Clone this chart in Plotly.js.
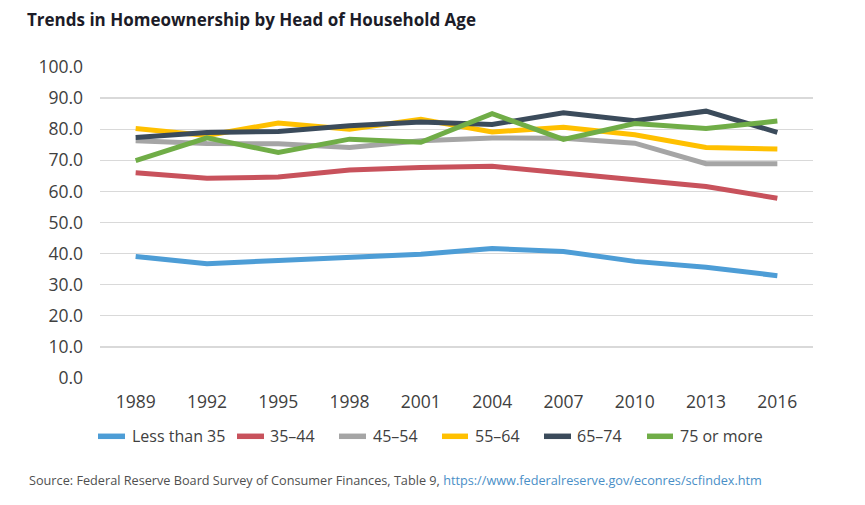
<!DOCTYPE html>
<html>
<head>
<meta charset="utf-8">
<script src="https://cdn.plot.ly/plotly-3.0.1.min.js"></script>
<style>html,body{margin:0;padding:0;background:#fff;}#chart{width:865px;height:505px;}</style>
</head>
<body>
<div id="chart"></div>
<script>
const years = ["1989","1992","1995","1998","2001","2004","2007","2010","2013","2016"];
const seriesNames = ["Less than 35","35\u201344","45\u201354","55\u201364","65\u201374","75 or more"];
const lessThan35 = [39.1, 36.7, 37.8, 38.8, 39.8, 41.6, 40.7, 37.5, 35.6, 32.9];
const age35to44 = [66.0, 64.2, 64.6, 66.9, 67.7, 68.1, 65.9, 63.8, 61.6, 57.8];
const age45to54 = [76.3, 75.4, 75.3, 74.1, 76.3, 77.2, 77.1, 75.5, 68.9, 68.9];
const age55to64 = [80.2, 78.0, 82.0, 80.0, 83.2, 79.1, 80.6, 78.2, 74.1, 73.6];
const age65to74 = [77.3, 78.9, 79.3, 81.1, 82.3, 81.5, 85.3, 82.7, 85.8, 79.0];
const age75plus = [69.9, 77.2, 72.5, 76.8, 75.8, 85.0, 76.7, 81.8, 80.2, 82.6];
const colors = ["#4d9dd6", "#c8525c", "#a5a5a5", "#ffc000", "#3b4b5b", "#70ad47"];
const allSeries = [lessThan35, age35to44, age45to54, age55to64, age65to74, age75plus];

const traces = allSeries.map((vals, i) => ({
  type: "scatter",
  mode: "lines",
  x: years,
  y: vals,
  name: seriesNames[i],
  line: {color: colors[i], width: 5},
  hoverinfo: "skip",
  showlegend: false
}));

// Manual legend layout (pixel positions in the 865x505 frame)
const plotL = 100, plotW = 713, plotB = 377.7, plotH = 311;
const px = v => (v - plotL) / plotW;
const py = v => (plotB - v) / plotH;
const legendY = 436;
const legendLines = [[98,125],[237,264],[339,366],[442,468],[544,571],[647,673]];
const legendText = [130, 268, 371, 473, 575, 678];

const shapes = legendLines.map((seg, i) => ({
  type: "line", xref: "paper", yref: "paper",
  x0: px(seg[0]), x1: px(seg[1]), y0: py(legendY), y1: py(legendY),
  line: {color: colors[i], width: 5.5}
}));

const annotations = seriesNames.map((n, i) => ({
  xref: "paper", yref: "paper",
  x: px(legendText[i]), y: py(legendY),
  xanchor: "left", yanchor: "middle",
  showarrow: false, text: n,
  font: {size: 16, color: "#404040", family: "Open Sans, sans-serif"}
}));

annotations.push({
  xref: "paper", yref: "paper",
  x: px(27), y: py(480),
  xanchor: "left", yanchor: "middle",
  showarrow: false,
  align: "left",
  text: "Source: Federal Reserve Board Survey of Consumer Finances, Table 9, <span style=\"color:#4a8fc7\">https://www.federalreserve.gov/econres/scfindex.htm</span>",
  font: {size: 12.7, color: "#505050", family: "Open Sans, sans-serif"}
});

const layout = {
  width: 865,
  height: 505,
  paper_bgcolor: "#ffffff",
  plot_bgcolor: "#ffffff",
  margin: {l: 100, r: 52, t: 67, b: 127},
  font: {family: "Open Sans, sans-serif", color: "#404040"},
  title: {
    text: "<b>Trends in Homeownership by Head of Household Age</b>",
    font: {family: "Open Sans, sans-serif", size: 17, color: "#1c1c28"},
    x: 27/865, xref: "container", xanchor: "left",
    y: 1 - 20/505, yref: "container", yanchor: "middle"
  },
  xaxis: {
    type: "category",
    range: [-0.5, 9.5],
    showgrid: false,
    zeroline: false,
    showline: false,
    ticks: "",
    tickfont: {size: 17.5, color: "#404040"},
    ticklabelstandoff: 11
  },
  yaxis: {
    range: [0, 100],
    dtick: 10,
    tickformat: ".1f",
    showgrid: true,
    gridcolor: "#d9d9d9",
    gridwidth: 1.3,
    zeroline: false,
    showline: false,
    ticks: "",
    tickfont: {size: 17.5, color: "#404040"},
    ticklabelstandoff: 16,
    fixedrange: true
  },
  showlegend: false,
  shapes: shapes,
  annotations: annotations
};

Plotly.newPlot("chart", traces, layout, {displayModeBar: false, staticPlot: true});
</script>
</body>
</html>
